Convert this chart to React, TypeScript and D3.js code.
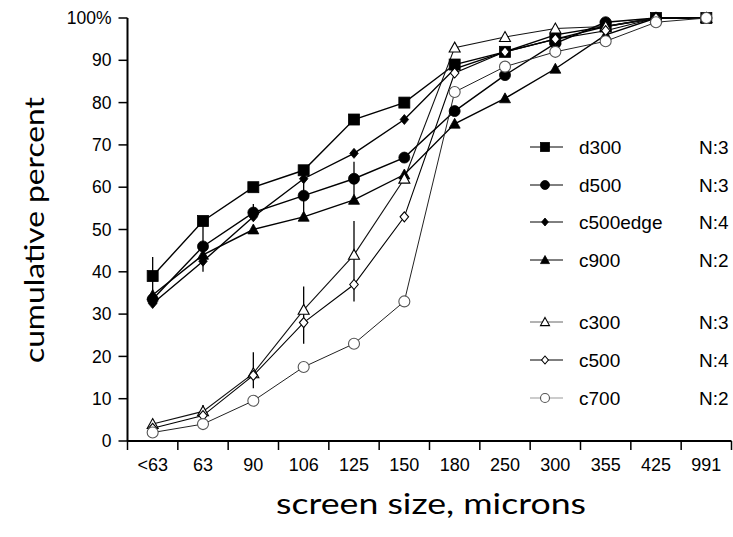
import React from "react";
import * as d3 from "d3";

const categories = ["<63", "63", "90", "106", "125", "150", "180", "250", "300", "355", "425", "991"];
const yTicks = [0, 10, 20, 30, 40, 50, 60, 70, 80, 90, 100];

const d300 = [39, 52, 60, 64, 76, 80, 89, 92, 95, 98, 100, 100];
const d500 = [33.5, 46, 54, 58, 62, 67, 78, 86.5, 94, 99, 100, 100];
const c500edge = [32.5, 42.5, 53, 62, 68, 76, 88, 92, 96, 98, 100, 100];
const c900 = [34.5, 44, 50, 53, 57, 63, 75, 81, 88, 96, 100, 100];
const c300 = [4, 7, 16, 31, 44, 62, 93, 95.5, 97.5, 98, 100, 100];
const c500 = [3, 6, 15.5, 28, 37, 53, 87, 92, 95, 97, 100, 100];
const c700 = [2, 4, 9.5, 17.5, 23, 33, 82.5, 88.5, 92, 94.5, 99, 100];

const seriesNames = ["d300", "d500", "c500edge", "c900", "c300", "c500", "c700"];
const seriesN = ["N:3", "N:3", "N:4", "N:2", "N:3", "N:4", "N:2"];

// error bars: [series index, category index, low, high]
const errorBars: [number, number, number, number][] = [
  [0, 0, 35, 43.5],
  [1, 1, 40, 52],
  [1, 2, 52, 56],
  [1, 3, 53, 62],
  [1, 4, 57, 66],
  [4, 1, 5, 8.5],
  [4, 2, 12.5, 21],
  [4, 3, 23, 36.5],
  [4, 4, 33, 52],
];

type Style = { marker: string; fill: string; stroke: string; lineColor: string; lineWidth: number; size: number; legendLine: string };
const styles: Style[] = [
  { marker: "square", fill: "#000", stroke: "#000", lineColor: "#000", lineWidth: 1.4, size: 11, legendLine: "#000" },
  { marker: "circle", fill: "#000", stroke: "#000", lineColor: "#000", lineWidth: 1.4, size: 11, legendLine: "#000" },
  { marker: "diamond", fill: "#000", stroke: "#000", lineColor: "#000", lineWidth: 1.4, size: 10, legendLine: "#000" },
  { marker: "triangle", fill: "#000", stroke: "#000", lineColor: "#000", lineWidth: 1.4, size: 11, legendLine: "#000" },
  { marker: "triangle", fill: "#fff", stroke: "#000", lineColor: "#111", lineWidth: 1.1, size: 11, legendLine: "#666" },
  { marker: "diamond", fill: "#fff", stroke: "#000", lineColor: "#000", lineWidth: 1.1, size: 10, legendLine: "#000" },
  { marker: "circle", fill: "#fff", stroke: "#555", lineColor: "#222", lineWidth: 1, size: 11, legendLine: "#999" },
];

const allSeries = [d300, d500, c500edge, c900, c300, c500, c700];

function Marker({ x, y, s, size }: { x: number; y: number; s: Style; size: number }) {
  const h = size / 2;
  const sw = s.fill === "#fff" ? 1.1 : 0.8;
  if (s.marker === "square")
    return <rect x={x - h} y={y - h} width={size} height={size} fill={s.fill} stroke={s.stroke} strokeWidth={sw} />;
  if (s.marker === "circle") return <circle cx={x} cy={y} r={h} fill={s.fill} stroke={s.stroke} strokeWidth={sw} />;
  if (s.marker === "diamond")
    return (
      <path d={`M${x},${y - h}L${x + h * 0.85},${y}L${x},${y + h}L${x - h * 0.85},${y}Z`} fill={s.fill} stroke={s.stroke} strokeWidth={sw} />
    );
  return (
    <path d={`M${x},${y - h}L${x + h},${y + h * 0.8}L${x - h},${y + h * 0.8}Z`} fill={s.fill} stroke={s.stroke} strokeWidth={sw} />
  );
}

export default function App() {
  const W = 733, H = 537;
  const x0 = 127.5, x1 = 731.5;
  const yTop = 18, yBot = 441;
  const x = d3.scaleBand<string>().domain(categories).range([x0, x1]);
  const y = d3.scaleLinear().domain([0, 100]).range([yBot, yTop]);
  const cx = (c: string) => (x(c) as number) + x.bandwidth() / 2;
  const line = d3.line<number>().x((_, i) => cx(categories[i])).y((v) => y(v));
  const labelFont = "'Liberation Sans', Arial, Helvetica, sans-serif";
  const titleFont = "Lato, 'Open Sans', sans-serif";

  const legendRows = [147, 185, 222, 260, 322, 360, 398];

  return (
    <svg width={W} height={H} style={{ position: "absolute", left: 0, top: 0, background: "#fff" }}>
      <rect width={W} height={H} fill="#fff" />
      {/* axes */}
      <line x1={x0} x2={x0} y1={yTop} y2={yBot} stroke="#000" strokeWidth={2} />
      <line x1={x0} x2={x1} y1={yBot} y2={yBot} stroke="#000" strokeWidth={2} />
      {yTicks.map((t) => (
        <g key={t}>
          <line x1={x0 - 9} x2={x0} y1={y(t)} y2={y(t)} stroke="#000" strokeWidth={1.5} />
          <text x={x0 - 16} y={y(t)} dy="0.35em" textAnchor="end" fontFamily={labelFont} fontSize={17.5}>
            {t === 100 ? "100%" : t}
          </text>
        </g>
      ))}
      {categories.map((c, i) => (
        <g key={c}>
          <line x1={x(c) as number} x2={x(c) as number} y1={yBot} y2={yBot + 9} stroke="#000" strokeWidth={1.5} />
          {i === categories.length - 1 && (
            <line x1={x1} x2={x1} y1={yBot} y2={yBot + 9} stroke="#000" strokeWidth={1.5} />
          )}
          <text x={cx(c)} y={471} textAnchor="middle" fontFamily={labelFont} fontSize={18}>
            {c}
          </text>
        </g>
      ))}
      {/* series lines */}
      {allSeries.map((vals, si) => (
        <path key={"l" + si} d={line(vals) as string} fill="none" stroke={styles[si].lineColor} strokeWidth={styles[si].lineWidth} />
      ))}
      {/* error bars */}
      {errorBars.map(([si, ci, lo, hi], k) => (
        <line key={"e" + k} x1={cx(categories[ci])} x2={cx(categories[ci])} y1={y(lo)} y2={y(hi)} stroke="#000" strokeWidth={1.3} />
      ))}
      {/* markers */}
      {allSeries.map((vals, si) =>
        vals.map((v, i) => <Marker key={`m${si}-${i}`} x={cx(categories[i])} y={y(v)} s={styles[si]} size={styles[si].size} />)
      )}
      {/* legend */}
      {seriesNames.map((n, i) => (
        <g key={n}>
          <line x1={530} x2={563} y1={legendRows[i]} y2={legendRows[i]} stroke={styles[i].legendLine} strokeWidth={1} />
          <Marker x={545} y={legendRows[i]} s={styles[i]} size={styles[i].size - 2} />
          <text x={579} y={legendRows[i]} dy="0.35em" fontFamily={labelFont} fontSize={19}>
            {n}
          </text>
          <text x={699} y={legendRows[i]} dy="0.35em" fontFamily={labelFont} fontSize={19}>
            {seriesN[i]}
          </text>
        </g>
      ))}
      {/* titles */}
      <text x={276} y={514} fontFamily={titleFont} fontSize={29} textLength={310} lengthAdjust="spacingAndGlyphs">
        screen size, microns
      </text>
      <text
        transform="translate(44,363) rotate(-90)"
        x={0}
        y={0}
        fontFamily={titleFont}
        fontSize={27}
        textLength={266}
        lengthAdjust="spacingAndGlyphs"
      >
        cumulative percent
      </text>
    </svg>
  );
}
